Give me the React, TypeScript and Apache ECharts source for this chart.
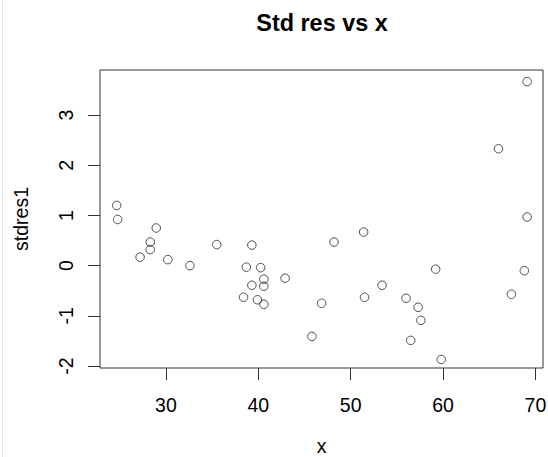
import React, { useEffect, useRef } from "react";
import * as echarts from "echarts";

const chartTitle = "Std res vs x";
const xName = "x";
const yName = "stdres1";
const xTicks = [30, 40, 50, 60, 70];
const yTicks = [-2, -1, 0, 1, 2, 3];

const xValues = [
  24.67, 24.77, 28.95, 28.3, 28.3, 27.2, 30.2, 32.6, 35.5, 39.3, 38.7, 40.25,
  40.6, 42.9, 39.3, 40.6, 38.4, 39.9, 40.6, 46.85, 45.8, 48.2, 51.4, 51.5,
  53.4, 56.0, 57.3, 57.6, 56.5, 59.2, 59.8, 66.0, 67.4, 68.8, 69.1, 69.1,
];
const yValues = [
  1.2, 0.92, 0.75, 0.47, 0.32, 0.17, 0.12, 0.0, 0.42, 0.41, -0.03, -0.04,
  -0.27, -0.25, -0.39, -0.41, -0.63, -0.68, -0.77, -0.75, -1.41, 0.47, 0.67,
  -0.63, -0.39, -0.65, -0.83, -1.09, -1.49, -0.07, -1.87, 2.33, -0.57, -0.1,
  0.97, 3.67,
];

const FONT = "'Liberation Sans', Arial, Helvetica, sans-serif";

export default function App() {
  const ref = useRef<HTMLDivElement>(null);
  useEffect(() => {
    if (!ref.current) return;
    const chart = echarts.init(ref.current, null, { renderer: "svg" });
    const data = xValues.map((x, i) => [x, yValues[i]]);
    chart.setOption({
      animation: false,
      backgroundColor: "#fff",
      title: {
        text: chartTitle,
        left: 322,
        top: 11,
        padding: 0,
        textAlign: "center",
        textStyle: {
          fontFamily: FONT,
          fontWeight: "bold",
          fontSize: 23.4,
          color: "#000",
        },
      },
      grid: {
        left: 100,
        right: 5,
        top: 70,
        bottom: 89,
        containLabel: false,
        outerBoundsMode: "none",
        show: true,
        borderColor: "#333",
        borderWidth: 1,
        backgroundColor: "transparent",
      },
      xAxis: {
        type: "value",
        min: 22.86,
        max: 70.82,
        name: xName,
        nameLocation: "middle",
        nameGap: 68,
        nameTextStyle: { fontFamily: FONT, fontSize: 19.5, color: "#000" },
        axisLine: { show: false, onZero: false },
        splitLine: { show: false },
        axisTick: {
          show: true,
          inside: false,
          length: 12,
          customValues: xTicks,
          lineStyle: { color: "#333", width: 1 },
        },
        axisLabel: {
          customValues: xTicks,
          margin: 27,
          fontFamily: FONT,
          fontSize: 19.5,
          color: "#000",
        },
      },
      yAxis: {
        type: "value",
        min: -2.04,
        max: 3.9,
        name: yName,
        nameLocation: "middle",
        nameGap: 69,
        nameTextStyle: { fontFamily: FONT, fontSize: 19.5, color: "#000" },
        axisLine: { show: false, onZero: false },
        splitLine: { show: false },
        axisTick: {
          show: true,
          inside: false,
          length: 12,
          customValues: yTicks,
          lineStyle: { color: "#333", width: 1 },
        },
        axisLabel: {
          customValues: yTicks,
          rotate: 90,
          margin: 24.5,
          fontFamily: FONT,
          fontSize: 19.5,
          color: "#000",
        },
      },
      graphic: [
        {
          type: "line",
          shape: { x1: 2.5, y1: 0, x2: 2.5, y2: 457 },
          style: { stroke: "#e4e4e4", lineWidth: 1 },
          silent: true,
        },
      ],
      series: [
        {
          type: "scatter",
          data,
          symbol: "circle",
          symbolSize: 8.5,
          itemStyle: {
            color: "rgba(0,0,0,0)",
            borderColor: "#222",
            borderWidth: 1,
          },
        },
      ],
    });
    return () => chart.dispose();
  }, []);
  return (
    <div
      ref={ref}
      style={{ position: "fixed", left: 0, top: 0, width: 548, height: 457 }}
    />
  );
}
